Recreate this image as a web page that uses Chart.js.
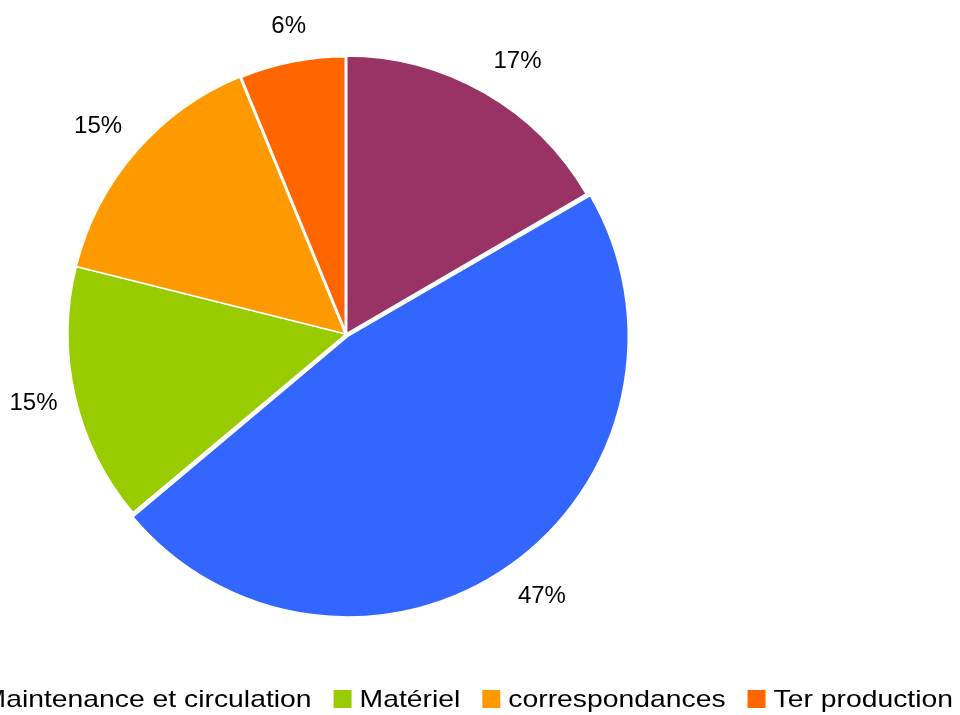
<!DOCTYPE html>
<html>
<head>
<meta charset="utf-8">
<script src="https://cdn.jsdelivr.net/npm/chart.js@4"></script>
<style>
html, body { margin: 0; padding: 0; background: #fff; overflow: hidden; }
#wrap { width: 960px; height: 715px; }
</style>
</head>
<body>
<div id="wrap"><canvas id="myChart" width="960" height="715"></canvas></div>
<script>
// données
const categories = ['Autres', 'Maintenance et circulation', 'Matériel', 'correspondances', 'Ter production'];
const valeurs = [16.6, 47.3, 15.0, 14.9, 6.2];
const couleurs = ['#993366', '#3366ff', '#99cc00', '#ff9900', '#ff6600'];
const decalages = [0, 12, 0, 0, 0];         // parts détachées (chart.js déplace de offset/4)
const bordures = [1.5, 1.5, 1.5, 1.5, 3];
const visiblesLegende = [1, 2, 3, 4];       // entrées visibles dans la légende

const police = '24px "Liberation Sans", Arial, sans-serif';

// pourcentages autour du camembert, alignés selon le côté
const etiquettes = {
  id: 'etiquettes',
  afterDatasetsDraw(chart) {
    const ctx = chart.ctx;
    const meta = chart.getDatasetMeta(0);
    const total = valeurs.reduce((a, b) => a + b, 0);
    ctx.save();
    ctx.font = police;
    ctx.fillStyle = '#000';
    ctx.textAlign = 'center';
    ctx.textBaseline = 'middle';
    meta.data.forEach((arc, i) => {
      const mid = (arc.startAngle + arc.endAngle) / 2;
      const dx = Math.cos(mid), dy = Math.sin(mid);
      const dep = decalages[i] / 4;
      const texte = Math.round(valeurs[i] * 100 / total) + '%';
      const w = ctx.measureText(texte).width;
      const ax = arc.x + dx * (arc.outerRadius + 18 + dep);
      const ay = arc.y + dy * (arc.outerRadius + 27 + dep);
      const hx = dx > 0.3 ? 1 : (dx < -0.3 ? -1 : 0);
      const hy = dy > 0.3 ? 1 : (dy < -0.3 ? -1 : 0);
      ctx.fillText(texte, ax + hx * w / 2, ay + hy * 9 + 1);
    });
    ctx.restore();
  }
};

// légende en bas, alignée à droite (coupée à gauche comme l'original)
const legende = {
  id: 'legende',
  afterDraw(chart) {
    const ctx = chart.ctx;
    ctx.save();
    ctx.font = police;
    ctx.textBaseline = 'alphabetic';
    const etirement = 1.18, boite = 18, ecart = 8, pas = 22;
    const largeurs = visiblesLegende.map(i => boite + ecart + ctx.measureText(categories[i]).width * etirement);
    const total = largeurs.reduce((a, b) => a + b, 0) + pas * (visiblesLegende.length - 1);
    let x = 953 - total;
    visiblesLegende.forEach((i, k) => {
      ctx.fillStyle = couleurs[i];
      ctx.fillRect(x, 690, boite, boite);
      ctx.fillStyle = '#000';
      ctx.save();
      ctx.translate(x + boite + ecart, 707);
      ctx.scale(etirement, 1);
      ctx.fillText(categories[i], 0, 0);
      ctx.restore();
      x += largeurs[k] + pas;
    });
    ctx.restore();
  }
};

new Chart('myChart', {
  type: 'pie',
  data: {
    labels: categories,
    datasets: [{
      data: valeurs,
      backgroundColor: couleurs,
      borderColor: '#ffffff',
      borderWidth: bordures,
      offset: decalages,
      radius: 278
    }]
  },
  options: {
    responsive: false,
    animation: false,
    layout: { padding: { left: 0, right: 268, top: 20, bottom: 67 } },
    plugins: {
      legend: { display: false },
      tooltip: { enabled: false }
    }
  },
  plugins: [etiquettes, legende]
});
</script>
</body>
</html>
